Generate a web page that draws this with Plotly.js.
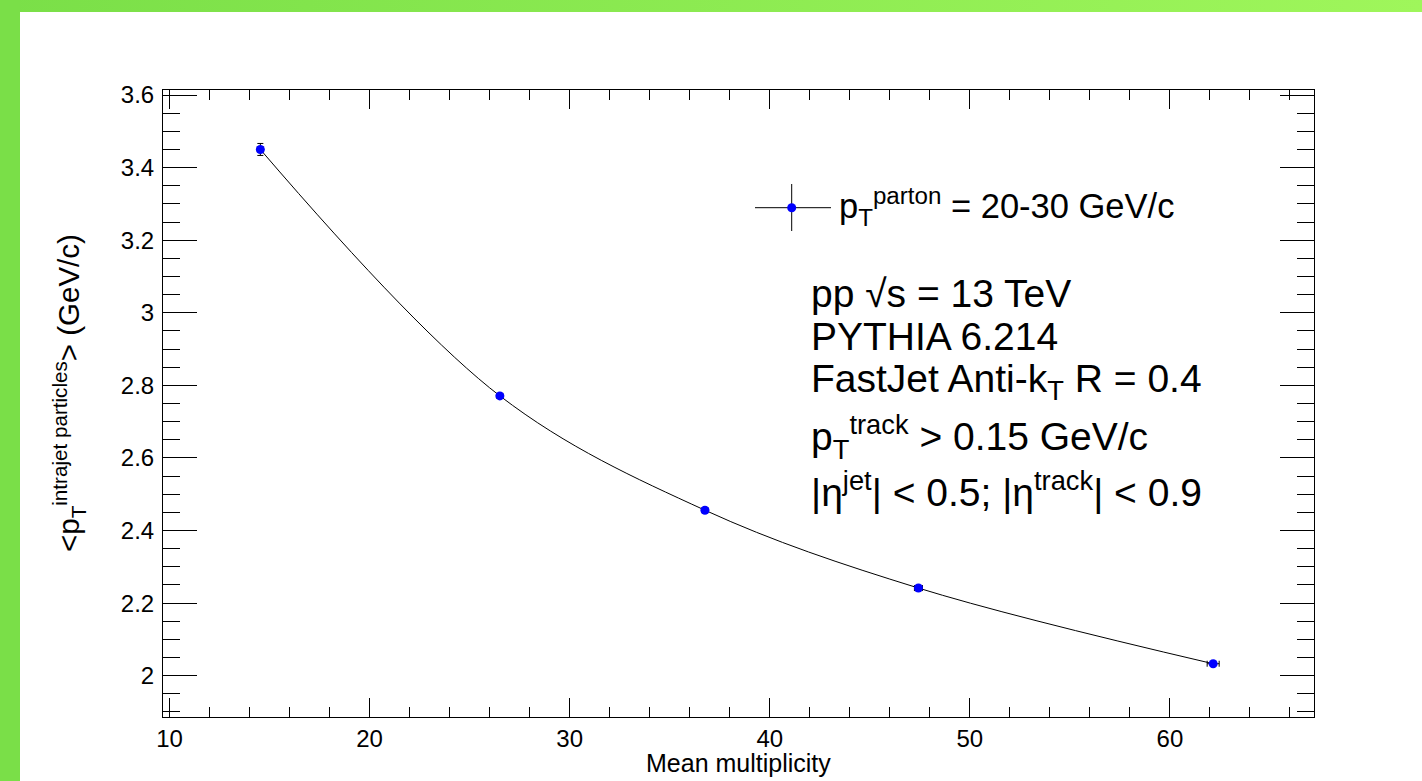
<!DOCTYPE html>
<html>
<head>
<meta charset="utf-8">
<script src="https://cdn.plot.ly/plotly-3.0.1.min.js"></script>
<style>
  html, body { margin: 0; padding: 0; width: 1422px; height: 781px; overflow: hidden; background: #ffffff; }
  #topbar { position: absolute; left: 0; top: 0; width: 1422px; height: 12px;
            background: linear-gradient(to right, #7adf48, #9ff65b); }
  #leftbar { position: absolute; left: 0; top: 0; width: 20px; height: 781px; background: #7adf48; }
  #chart { position: absolute; left: 0; top: 0; width: 1422px; height: 781px; }
</style>
</head>
<body>
<div id="topbar"></div>
<div id="leftbar"></div>
<div id="chart"></div>
<script>
// ---- data ----
const multiplicity = [14.54, 26.51, 36.76, 47.43, 62.16];
const meanPt       = [3.450, 2.771, 2.456, 2.2415, 2.033];
const meanPtErr    = [0.0165, 0.004, 0.003, 0.003, 0.003];
const multErr      = [0.15, 0.15, 0.15, 0.2, 0.3];

const xTickVals = [10, 20, 30, 40, 50, 60];
const xTickText = ['10', '20', '30', '40', '50', '60'];
const yTickVals = [2, 2.2, 2.4, 2.6, 2.8, 3, 3.2, 3.4, 3.6];
const yTickText = ['2', '2.2', '2.4', '2.6', '2.8', '3', '3.2', '3.4', '3.6'];

const legendLabel = 'p<sub>T</sub><sup>parton</sup> = 20-30 GeV/c';
const infoLines = [
  'pp \u221As = 13 TeV',
  'PYTHIA 6.214',
  'FastJet Anti-k<sub>T</sub> R = 0.4',
  'p<sub>T</sub><sup>track</sup> > 0.15 GeV/c',
  '|\u03B7<sup>jet</sup>| < 0.5; |\u03B7<sup>track</sup>| < 0.9'
];
const xTitle = 'Mean multiplicity';
const yTitle = '<p<sub>T</sub><sup>intrajet particles</sup>> (GeV/c)';

// ---- layout geometry (pixels) ----
const W = 1422, H = 781;
const L = 163, R = 1314, T = 90, B = 717;
const px = X => (X - L) / (R - L);
const py = Y => (B - Y) / (B - T);
const FONT = '"Liberation Sans", Arial, Helvetica, sans-serif';

const trace = {
  type: 'scatter',
  mode: 'lines+markers',
  x: multiplicity,
  y: meanPt,
  line: { shape: 'spline', smoothing: 1, color: '#000000', width: 1 },
  marker: { color: '#0000ff', size: 9 },
  error_y: { type: 'data', array: meanPtErr, color: '#000000', thickness: 1, width: 3 },
  error_x: { type: 'data', array: multErr, color: '#000000', thickness: 1, width: 3 },
  showlegend: false,
  hoverinfo: 'x+y'
};

const lineYs = [293, 336, 381, 437, 490];
const annotations = [];
infoLines.forEach((t, i) => {
  annotations.push({
    xref: 'paper', yref: 'paper', x: px(809), y: py(lineYs[i]),
    xanchor: 'left', yanchor: 'middle', showarrow: false,
    text: t, font: { family: FONT, size: 39, color: '#000000' }
  });
});
annotations.push({
  xref: 'paper', yref: 'paper', x: px(837), y: py(206),
  xanchor: 'left', yanchor: 'middle', showarrow: false,
  text: legendLabel, font: { family: FONT, size: 34.5, color: '#000000' }
});
annotations.push({
  xref: 'paper', yref: 'paper', x: 0.5, y: py(763),
  xanchor: 'center', yanchor: 'middle', showarrow: false,
  text: xTitle, font: { family: FONT, size: 25, color: '#000000' }
});
annotations.push({
  xref: 'paper', yref: 'paper', x: px(69), y: py(393),
  xanchor: 'center', yanchor: 'middle', showarrow: false, textangle: -90,
  text: yTitle, font: { family: FONT, size: 29.5, color: '#000000' }
});

const lx = 791.7, ly = 207.7;
const shapes = [
  { type: 'line', xref: 'paper', yref: 'paper', x0: px(755), x1: px(831), y0: py(ly), y1: py(ly),
    line: { color: '#000000', width: 1 } },
  { type: 'line', xref: 'paper', yref: 'paper', x0: px(lx), x1: px(lx), y0: py(184), y1: py(231),
    line: { color: '#000000', width: 1 } },
  { type: 'circle', xref: 'paper', yref: 'paper', x0: px(lx - 4.5), x1: px(lx + 4.5),
    y0: py(ly + 4.5), y1: py(ly - 4.5), fillcolor: '#0000ff', line: { color: '#0000ff', width: 0 } }
];

const axisCommon = {
  ticks: 'inside', tickcolor: '#000000', tickwidth: 1,
  showline: true, linecolor: '#000000', linewidth: 1, mirror: 'ticks',
  showgrid: false, zeroline: false, tickmode: 'array',
  tickfont: { family: FONT, size: 24, color: '#000000' }
};

const layout = {
  width: W, height: H, autosize: false,
  margin: { l: L, r: W - R, t: T, b: H - B, pad: 0 },
  paper_bgcolor: 'rgba(0,0,0,0)',
  plot_bgcolor: '#ffffff',
  font: { family: FONT, color: '#000000' },
  showlegend: false,
  xaxis: Object.assign({}, axisCommon, {
    range: [9.675, 67.2], tickvals: xTickVals, ticktext: xTickText, ticklen: 19,
    minor: { tickmode: 'linear', tick0: 10, dtick: 2, ticks: 'inside', ticklen: 10, tickcolor: '#000000', tickwidth: 1 }
  }),
  yaxis: Object.assign({}, axisCommon, {
    range: [1.8862, 3.6138], tickvals: yTickVals, ticktext: yTickText, ticklen: 34,
    ticklabelstandoff: 3,
    minor: { tickmode: 'linear', tick0: 2, dtick: 0.05, ticks: 'inside', ticklen: 17, tickcolor: '#000000', tickwidth: 1 }
  }),
  annotations: annotations,
  shapes: shapes
};

Plotly.newPlot('chart', [trace], layout, { displayModeBar: false, staticPlot: true });
</script>
</body>
</html>
